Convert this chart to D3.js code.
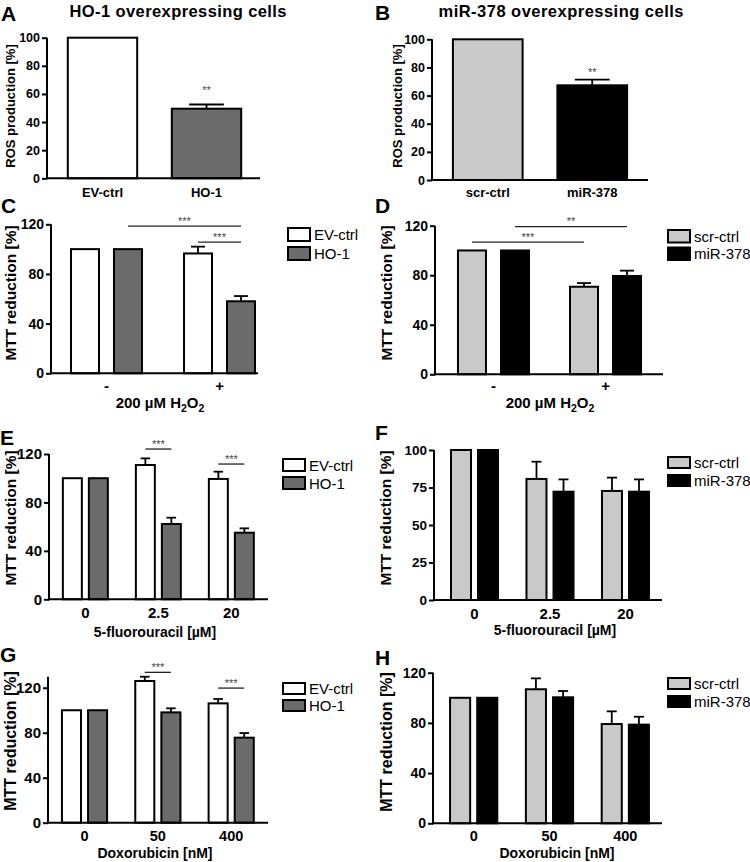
<!DOCTYPE html>
<html><head><meta charset="utf-8">
<script src="https://cdn.jsdelivr.net/npm/d3@7"></script>
<style>
body{margin:0;background:#fff}
svg{display:block}
text{font-family:"Liberation Sans",Arial,Helvetica,sans-serif;fill:#000}
</style>
</head><body>
<svg id="chart" width="750" height="862"></svg>
<script>
// ================= DATA =================
const catsA = ["EV-ctrl", "HO-1"];
const rosA = [100, 49.5];
const rosErrA = [0, 3];
const catsB = ["scr-ctrl", "miR-378"];
const rosB = [100, 67.3];
const rosErrB = [0, 4];

const seriesHO = ["EV-ctrl", "HO-1"];
const seriesMiR = ["scr-ctrl", "miR-378"];

const groupsH2O2 = ["-", "+"];
const evC = [100, 96.5],  evErrC = [0, 5.5];
const hoC = [100, 58],    hoErrC = [0, 4.2];
const scrD = [100, 70.7], scrErrD = [0, 3];
const mirD = [100, 79.4], mirErrD = [0, 4.3];

const groupsFU = ["0", "2.5", "20"];
const evE = [100, 110.9, 99.4], evErrE = [0, 5.5, 6];
const hoE = [100, 62.2, 55],    hoErrE = [0, 5.2, 3.6];
const scrF = [100, 80.7, 72.7], scrErrF = [0, 11.5, 8.9];
const mirF = [100, 72.2, 72.2], mirErrF = [0, 8.2, 8.2];

const groupsDox = ["0", "50", "400"];
const evG = [100, 126, 106.1],  evErrG = [0, 3.8, 3.9];
const hoG = [100, 98.1, 75.6],  hoErrG = [0, 3.6, 4.1];
const scrH = [100, 106.8, 79.1], scrErrH = [0, 8.7, 10.1];
const mirH = [100, 100.4, 78.6], mirErrH = [0, 5, 6.3];

const ticks100 = [0, 20, 40, 60, 80, 100];
const ticks120 = [0, 40, 80, 120];
const ticksF = [0, 25, 50, 75, 100];

// significance brackets: [group1, series1, group2, series2, level, label]
const sigC = [[0, 1, 1, 1, 118.6, "***"], [1, 0, 1, 1, 105.7, "***"]];
const sigD = [[0, 1, 1, 1, 119.2, "**"], [0, 0, 1, 0, 106.8, "***"]];
const sigE = [[1, 0, 1, 1, 124.1, "***"], [2, 0, 2, 1, 111.7, "***"]];
const sigG = [[1, 0, 1, 1, 133.7, "***"], [2, 0, 2, 1, 119.7, "***"]];
// stars over single bars: [category index, level, label]
const starA = [[1, 64, "**"]];
const starB = [[1, 78, "**"]];

// ================= STYLE =================
const WHITE = "#ffffff", DGREY = "#6b6b6b", LGREY = "#c9c9c9", BLACK = "#000000";
const svg = d3.select("#chart");

function drawPanel(c) {
  const g = svg.append("g");
  const y = d3.scaleLinear().domain(c.yDomain).range(c.yRange);
  const x0 = d3.scaleBand().domain(c.groups).range(c.xRange).paddingInner(c.pi).paddingOuter(c.po);
  const x1 = d3.scaleBand().domain(d3.range(c.series.length)).range([0, x0.bandwidth()]).paddingInner(c.pi1 || 0);
  const bw = x1.bandwidth();
  const cx = (gi, si) => x0(c.groups[gi]) + x1(si) + bw / 2;

  // letter
  g.append("text").attr("x", c.letter[1]).attr("y", c.letter[2]).text(c.letter[0])
    .style("font-size", "21px").style("font-weight", "bold");
  // title
  if (c.title) {
    g.append("text").attr("x", c.title[1]).attr("y", c.title[2]).attr("text-anchor", "middle")
      .attr("textLength", c.title[3]).attr("lengthAdjust", "spacing")
      .text(c.title[0]).style("font-size", "16.5px").style("font-weight", "bold");
  }

  // bars
  c.series.forEach((s, si) => {
    const data = c.groups.map((gn, gi) => ({
      gi, v: s.vals[gi], e: s.errs[gi],
      fill: Array.isArray(s.fill) ? s.fill[gi] : s.fill
    }));
    g.selectAll(null).data(data).enter().append("rect")
      .attr("x", d => x0(c.groups[d.gi]) + x1(si))
      .attr("y", d => y(d.v))
      .attr("width", bw)
      .attr("height", d => y(0) - y(d.v))
      .attr("fill", d => d.fill)
      .attr("stroke", "#000").attr("stroke-width", 2);
    const eb = data.filter(d => d.e > 0);
    g.selectAll(null).data(eb).enter().append("line")
      .attr("x1", d => cx(d.gi, si)).attr("x2", d => cx(d.gi, si))
      .attr("y1", d => y(d.v)).attr("y2", d => y(d.v + d.e))
      .attr("stroke", "#000").attr("stroke-width", 1.8);
    g.selectAll(null).data(eb).enter().append("line")
      .attr("x1", d => cx(d.gi, si) - bw / 4).attr("x2", d => cx(d.gi, si) + bw / 4)
      .attr("y1", d => y(d.v + d.e)).attr("y2", d => y(d.v + d.e))
      .attr("stroke", "#000").attr("stroke-width", 1.8);
  });

  // y axis
  const ya = g.append("g").attr("transform", `translate(${c.xRange[0]},0)`)
    .call(d3.axisLeft(y).tickValues(c.ticks).tickSize(5).tickPadding(2).tickSizeOuter(0));
  ya.attr("font-family", null).attr("font-size", null);
  ya.select(".domain").attr("stroke", "#000").attr("stroke-width", 2)
    .attr("d", `M0,${y(0) + 1}V${y(c.ticks[c.ticks.length - 1]) - (c.yTopExtra || 0)}`);
  ya.selectAll(".tick line").attr("stroke", "#000").attr("stroke-width", 2);
  ya.selectAll(".tick text").style("font-size", c.tickFont + "px").style("font-weight", "bold");

  // x axis
  g.append("line").attr("x1", c.xRange[0] - 1).attr("x2", c.axisEnd)
    .attr("y1", y(0)).attr("y2", y(0)).attr("stroke", "#000").attr("stroke-width", 2);
  const xa = g.append("g").attr("transform", `translate(0,${y(0)})`)
    .call(d3.axisBottom(x0).tickSize(0));
  xa.select(".domain").remove();
  xa.attr("font-family", null).attr("font-size", null);
  xa.selectAll(".tick text").attr("dy", null).attr("y", c.xTickY - y(0))
    .style("font-size", c.xTickFont + "px").style("font-weight", "bold");

  // y label
  g.append("text").attr("transform", `translate(${c.yLabel[1]},${c.yLabel[2]}) rotate(-90)`)
    .attr("text-anchor", "middle").attr("dominant-baseline", "central")
    .text(c.yLabel[0]).style("font-size", c.yLabelFont + "px").style("font-weight", "bold");

  // x title (with optional subscripts)
  if (c.xTitle) {
    const t = g.append("text").attr("x", c.xTitle[1]).attr("y", c.xTitle[2]).attr("text-anchor", "middle")
      .style("font-size", c.xTitleFont + "px").style("font-weight", "bold");
    let shift = 0;
    c.xTitle[0].forEach(p => {
      if (typeof p === "string") {
        t.append("tspan").attr("dy", -shift).text(p);
        shift = 0;
      } else {
        t.append("tspan").attr("dy", 4 - shift).style("font-size", (c.xTitleFont * 0.7) + "px").text(p.sub);
        shift = 4;
      }
    });
  }

  // legend
  if (c.legend) {
    c.series.forEach((s, si) => {
      const ly = c.legend[1] + si * c.legend[2];
      g.append("rect").attr("x", c.legend[0]).attr("y", ly).attr("width", 22).attr("height", c.legend[3])
        .attr("fill", s.fill).attr("stroke", "#000").attr("stroke-width", 2);
      g.append("text").attr("x", c.legend[0] + 26).attr("y", ly + c.legend[3] / 2)
        .attr("dominant-baseline", "central").text(s.name).style("font-size", "15px");
    });
  }

  // significance brackets
  (c.sig || []).forEach(s => {
    const xa1 = cx(s[0], s[1]), xa2 = cx(s[2], s[3]), yy = y(s[4]);
    g.append("line").attr("x1", xa1).attr("x2", xa2).attr("y1", yy).attr("y2", yy)
      .attr("stroke", "#222").attr("stroke-width", 1.3);
    g.append("text").attr("x", (xa1 + xa2) / 2).attr("y", yy - 1.5).attr("text-anchor", "middle")
      .text(s[5]).style("font-size", "11px").style("fill", "#444");
  });
  (c.stars || []).forEach(s => {
    g.append("text").attr("x", cx(s[0], 0)).attr("y", y(s[1]) + 6).attr("text-anchor", "middle")
      .text(s[2]).style("font-size", "11px").style("fill", "#444");
  });
}

const h2o2Title = ["200 \u00b5M H", {sub: "2"}, "O", {sub: "2"}];

const panels = [
  { letter: ["A", 1, 21], title: ["HO-1 overexpressing cells", 178, 17, 217],
    groups: catsA, xRange: [47, 262], pi: 0.333, po: 0.2, axisEnd: 260,
    yDomain: [0, 100], yRange: [178.3, 37.7], ticks: ticks100, tickFont: 12.5,
    yLabel: ["ROS production [%]", 10, 106], yLabelFont: 13,
    xTickY: 197, xTickFont: 13,
    series: [{ name: "ROS", vals: rosA, errs: rosErrA, fill: [WHITE, DGREY] }],
    stars: starA },
  { letter: ["B", 375, 20], title: ["miR-378 overexpressing cells", 561, 17, 245],
    groups: catsB, xRange: [432, 648], pi: 0.333, po: 0.2, axisEnd: 648,
    yDomain: [0, 100], yRange: [180, 39.3], ticks: ticks100, tickFont: 12.5,
    yLabel: ["ROS production [%]", 397.5, 106], yLabelFont: 13,
    xTickY: 197, xTickFont: 13,
    series: [{ name: "ROS", vals: rosB, errs: rosErrB, fill: [LGREY, BLACK] }],
    stars: starB },
  { letter: ["C", 1, 213],
    groups: groupsH2O2, xRange: [51, 275], pi: 0.372, po: 0.177, pi1: 0.349, axisEnd: 258,
    yDomain: [0, 120], yRange: [373.3, 224.3], ticks: ticks120, tickFont: 14,
    yLabel: ["MTT reduction [%]", 10, 293], yLabelFont: 15.5,
    xTickY: 391, xTickFont: 15,
    xTitle: [h2o2Title, 160, 408], xTitleFont: 15,
    series: [{ name: seriesHO[0], vals: evC, errs: evErrC, fill: WHITE },
             { name: seriesHO[1], vals: hoC, errs: hoErrC, fill: DGREY }],
    legend: [288, 228, 19, 13], sig: sigC },
  { letter: ["D", 375, 213],
    groups: groupsH2O2, xRange: [435, 664], pi: 0.366, po: 0.205, pi1: 0.349, axisEnd: 663,
    yDomain: [0, 120], yRange: [374.3, 225.7], ticks: ticks120, tickFont: 14,
    yLabel: ["MTT reduction [%]", 386, 293], yLabelFont: 15.5,
    xTickY: 391, xTickFont: 15,
    xTitle: [h2o2Title, 550, 408], xTitleFont: 15,
    series: [{ name: seriesMiR[0], vals: scrD, errs: scrErrD, fill: LGREY },
             { name: seriesMiR[1], vals: mirD, errs: mirErrD, fill: BLACK }],
    legend: [668, 230, 17.5, 12.5], sig: sigD },
  { letter: ["E", 0, 445],
    groups: groupsFU, xRange: [49, 267.7], pi: 0.384, po: 0.19, pi1: 0.27, axisEnd: 268,
    yDomain: [0, 120], yRange: [599.3, 454], ticks: ticks120, tickFont: 15,
    yLabel: ["MTT reduction [%]", 10, 518], yLabelFont: 15.5,
    xTickY: 618, xTickFont: 15,
    xTitle: [["5-fluorouracil [\u00b5M]"], 155, 637], xTitleFont: 14,
    series: [{ name: seriesHO[0], vals: evE, errs: evErrE, fill: WHITE },
             { name: seriesHO[1], vals: hoE, errs: hoErrE, fill: DGREY }],
    legend: [283, 459, 18, 12], sig: sigE },
  { letter: ["F", 375, 440],
    groups: groupsFU, xRange: [434, 666], pi: 0.377, po: 0.225, pi1: 0.26, axisEnd: 662,
    yDomain: [0, 100], yRange: [600, 450], ticks: ticksF, tickFont: 13.5,
    yLabel: ["MTT reduction [%]", 385, 518], yLabelFont: 15.5,
    xTickY: 619, xTickFont: 15,
    xTitle: [["5-fluorouracil [\u00b5M]"], 555, 635], xTitleFont: 14,
    series: [{ name: seriesMiR[0], vals: scrF, errs: scrErrF, fill: LGREY },
             { name: seriesMiR[1], vals: mirF, errs: mirErrF, fill: BLACK }],
    legend: [668, 457, 18, 11] },
  { letter: ["G", 0, 662],
    groups: groupsDox, xRange: [48, 267.7], pi: 0.384, po: 0.19, pi1: 0.27, axisEnd: 268,
    yDomain: [0, 130], yRange: [822.7, 676.5], ticks: ticks120, tickFont: 15, yTopExtra: 11,
    yLabel: ["MTT reduction [%]", 10, 741], yLabelFont: 16,
    xTickY: 841, xTickFont: 14.5,
    xTitle: [["Doxorubicin [nM]"], 155, 857.5], xTitleFont: 14,
    series: [{ name: seriesHO[0], vals: evG, errs: evErrG, fill: WHITE },
             { name: seriesHO[1], vals: hoG, errs: hoErrG, fill: DGREY }],
    legend: [283, 683, 17, 11], sig: sigG },
  { letter: ["H", 375, 665],
    groups: groupsDox, xRange: [433, 666], pi: 0.377, po: 0.225, pi1: 0.26, axisEnd: 662,
    yDomain: [0, 120], yRange: [823.3, 672.7], ticks: ticks120, tickFont: 14,
    yLabel: ["MTT reduction [%]", 386, 742], yLabelFont: 16,
    xTickY: 841.5, xTickFont: 14.5,
    xTitle: [["Doxorubicin [nM]"], 557, 858], xTitleFont: 14,
    series: [{ name: seriesMiR[0], vals: scrH, errs: scrErrH, fill: LGREY },
             { name: seriesMiR[1], vals: mirH, errs: mirErrH, fill: BLACK }],
    legend: [668, 678, 18, 11] }
];

panels.forEach(drawPanel);
</script>
</body></html>
